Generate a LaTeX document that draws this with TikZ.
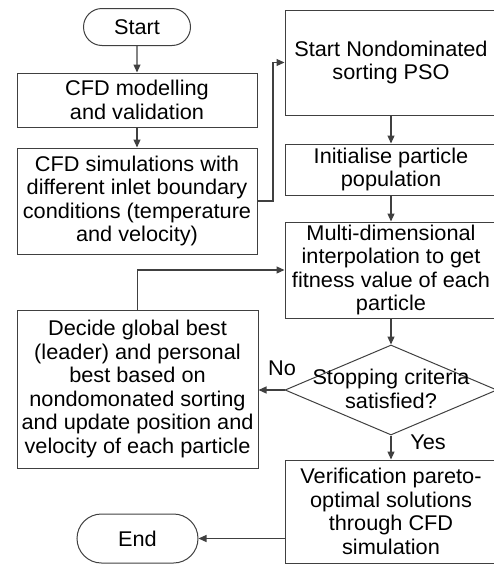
\documentclass[tikz,border=0pt]{standalone}
\usepackage{fontspec}
\setmainfont{Liberation Sans}[FakeStretch=1.02]
\usetikzlibrary{shapes.geometric,shapes.misc,arrows.meta}
\definecolor{ln}{HTML}{404040}
\begin{document}
\begin{tikzpicture}[x=1pt,y=-1pt,
  font=\fontsize{21.3}{23.5}\selectfont,
  every node/.style={inner sep=0pt,align=center,text=black},
  box/.style={draw=ln,line width=1pt,rectangle},
  pill/.style={draw=ln,line width=1pt,rounded rectangle},
  arr/.style={draw=ln,line width=1.2pt,-{Triangle[length=8pt,width=7pt]}}]
\useasboundingbox (0,0) rectangle (493,565);
\node[pill,minimum width=107,minimum height=37] (start) at (137,27) {Start};
\node[box,minimum width=240,minimum height=54] (b1) at (137,100) {CFD modelling\\and validation};
\node[box,minimum width=240,minimum height=106] (b2) at (137,201) {CFD simulations with\\different inlet boundary\\conditions (temperature\\and velocity)};
\node[box,minimum width=212,minimum height=105] (b3) at (391,62.5) {Start Nondominated\\sorting PSO};
\node[box,minimum width=212,minimum height=51] (b4) at (391,169.5) {Initialise particle\\population};
\node[box,minimum width=212,minimum height=96] (b5) at (391,270) {Multi-dimensional\\interpolation to get\\fitness value of each\\particle};
\node[diamond,draw=ln,line width=1pt,minimum width=212,minimum height=90] (dia) at (391,390) {};
\node (diat) at (391,389) {Stopping criteria\\satisfied?};
\node[box,minimum width=241,minimum height=158] (dec) at (137.5,389) {Decide global best\\(leader) and personal\\best based on\\nondomonated sorting\\and update position and\\velocity of each particle};
\node[box,minimum width=212,minimum height=103] (ver) at (391,511.5) {Verification pareto-\\optimal solutions\\through CFD\\simulation};
\node[pill,minimum width=121,minimum height=49] (end) at (137.5,538.5) {End};
\coordinate (c1) at (273,201);
\coordinate (c2) at (273,62.5);
\coordinate (c3) at (137.5,270);
\draw[arr] (start) -- (b1);
\draw[arr] (b1) -- (b2);
\draw[arr] (b2.east) -- (c1) -- (c2) -- (b3.west);
\draw[arr] (b3) -- (b4);
\draw[arr] (b4) -- (b5);
\draw[arr] (b5) -- (dia.north);
\draw[arr] (dia.west) -- (dec.east |- dia.west);
\draw[arr] (dec.north) -- (c3) -- (b5.west);
\draw[arr] (dia.south) -- (ver.north);
\draw[arr] (ver.west |- end.east) -- (end.east);
\node (no) at (282,368) {No};
\node (yes) at (428,442) {Yes};
\end{tikzpicture}
\end{document}
